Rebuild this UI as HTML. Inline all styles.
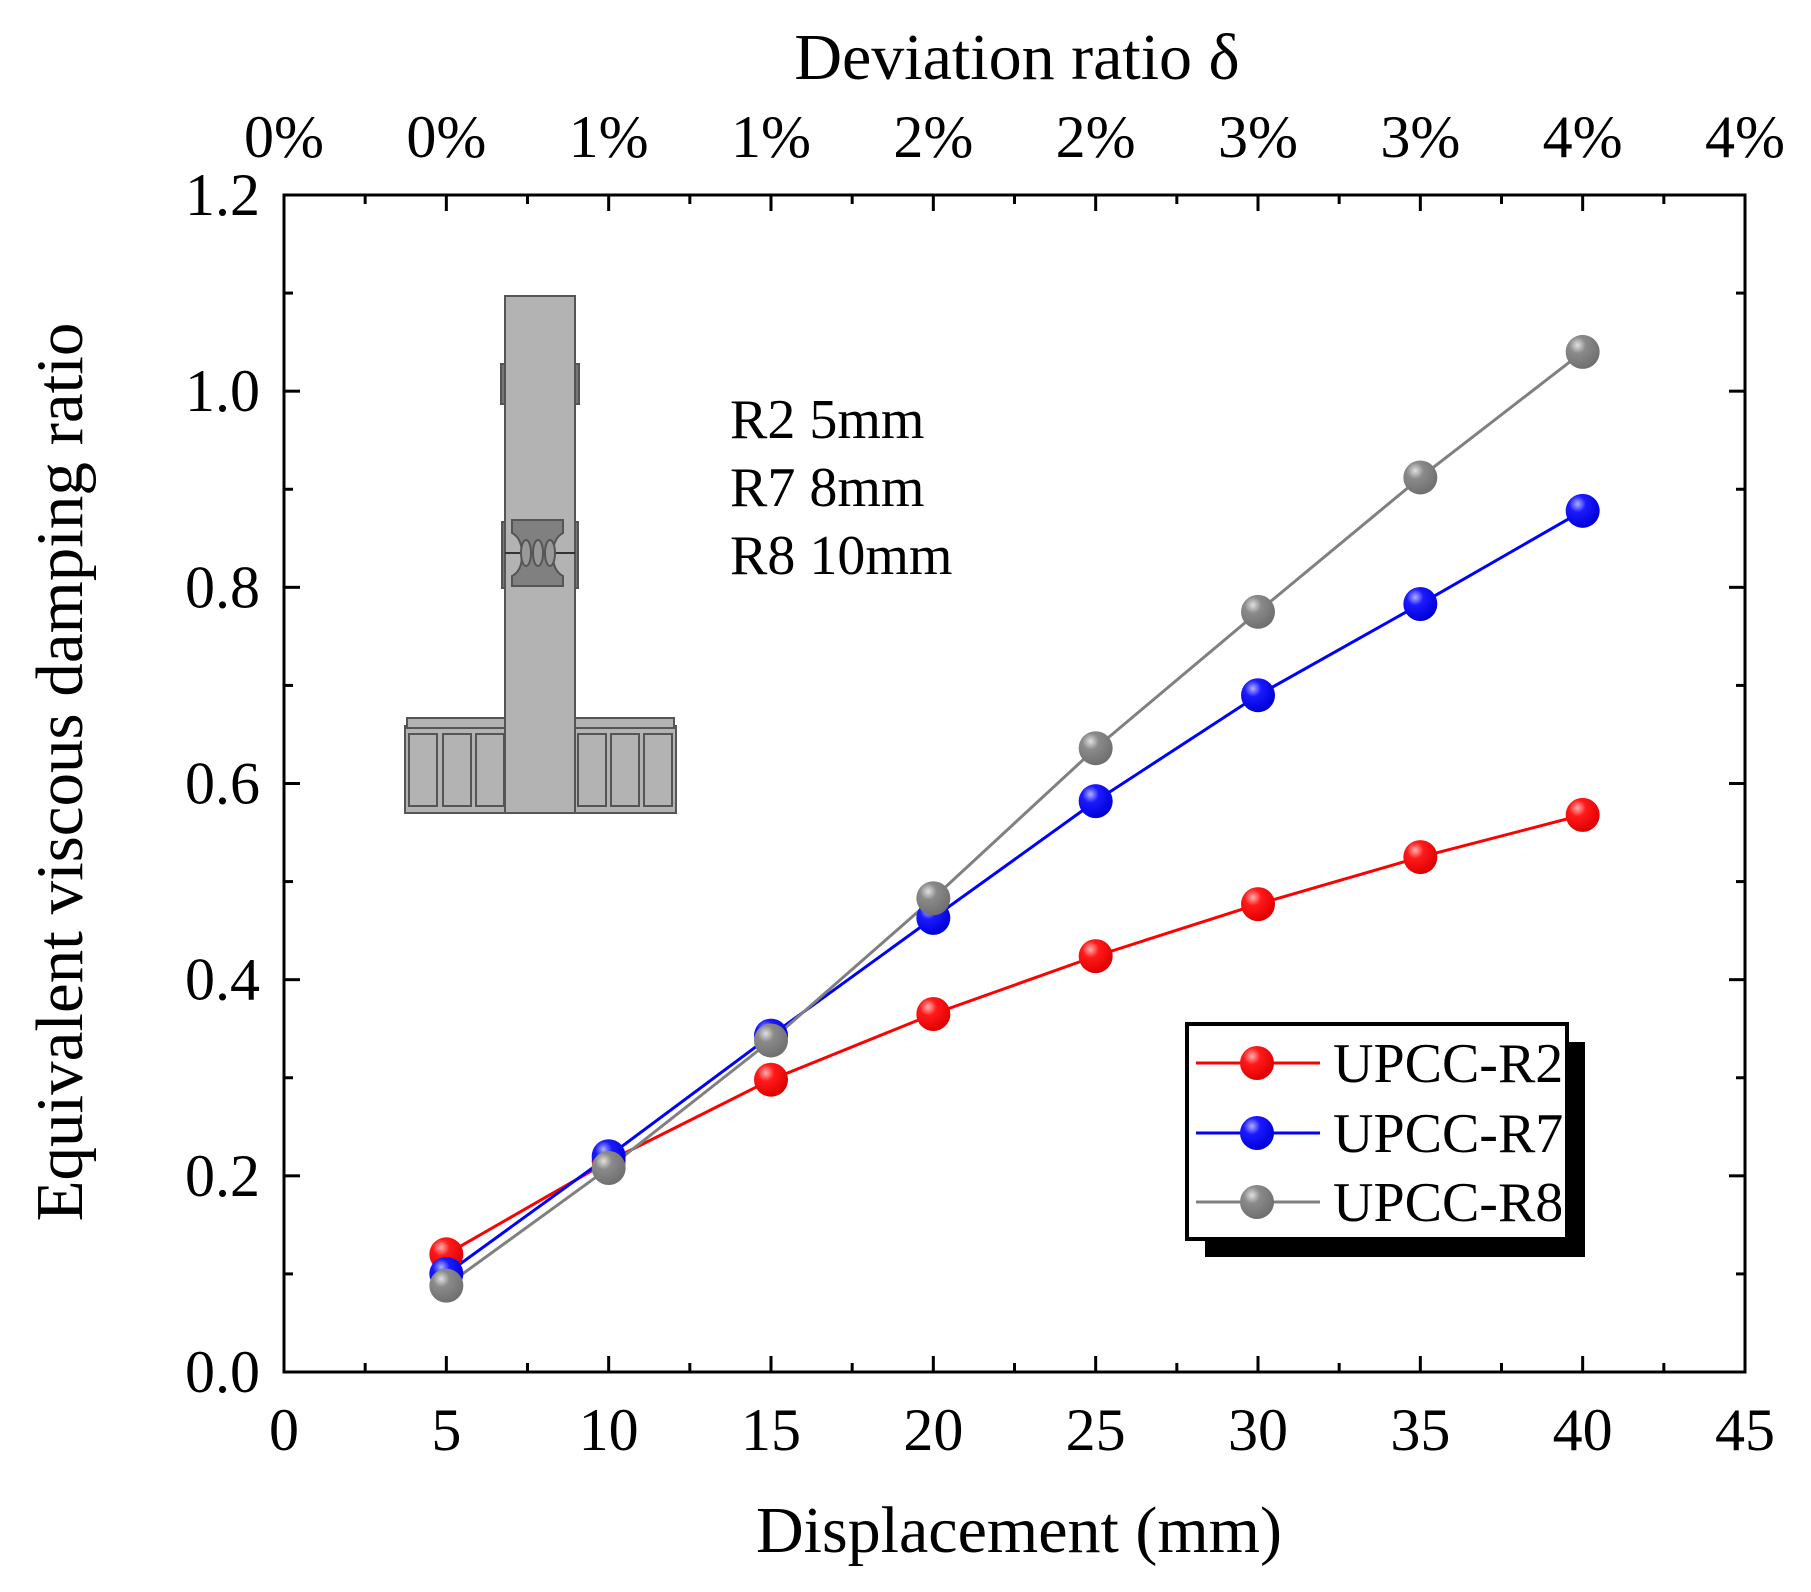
<!DOCTYPE html>
<html><head><meta charset="utf-8"><style>
html,body{margin:0;padding:0;background:#fff;}
svg{display:block;font-family:"Liberation Serif",serif;}
</style></head><body>
<svg id="chart" width="1811" height="1592" viewBox="0 0 1811 1592">
<defs>
<radialGradient id="gR" cx="0.35" cy="0.3" r="0.7"><stop offset="0" stop-color="#ffb0b0"/><stop offset="0.35" stop-color="#ff1a1a"/><stop offset="1" stop-color="#e00000"/></radialGradient>
<radialGradient id="gB" cx="0.35" cy="0.3" r="0.7"><stop offset="0" stop-color="#b0b0ff"/><stop offset="0.35" stop-color="#1a1aff"/><stop offset="1" stop-color="#0000d8"/></radialGradient>
<radialGradient id="gG" cx="0.35" cy="0.3" r="0.7"><stop offset="0" stop-color="#e0e0e0"/><stop offset="0.35" stop-color="#8a8a8a"/><stop offset="1" stop-color="#707070"/></radialGradient>
</defs>
<g id="structure" fill="#b3b3b3" stroke="#555" stroke-width="2">
<rect x="405" y="726" width="271" height="87"/>
<rect x="407" y="718" width="267" height="10"/>
<rect x="409" y="734" width="28" height="72"/><rect x="443" y="734" width="28" height="72"/><rect x="476" y="734" width="28" height="72"/>
<rect x="578" y="734" width="28" height="72"/><rect x="611" y="734" width="28" height="72"/><rect x="644" y="734" width="28" height="72"/>
<rect x="505" y="296" width="70" height="517"/>
<rect x="501" y="364" width="4" height="40" fill="#777"/><rect x="575" y="364" width="4" height="40" fill="#777"/>
<rect x="502" y="522" width="3" height="66" fill="#777"/><rect x="575" y="522" width="3" height="66" fill="#777"/>
<path d="M512 520 H563 V533 Q553 538 553 555 Q553 571 563 576 V586 H512 V576 Q522 571 522 555 Q522 538 512 533 Z" fill="#808080"/>
<line x1="505" y1="553" x2="575" y2="553" stroke="#333"/>
<ellipse cx="526" cy="553" rx="5" ry="13" fill="#999"/><ellipse cx="538" cy="553" rx="5" ry="13" fill="#999"/><ellipse cx="550" cy="553" rx="5" ry="13" fill="#999"/>
</g>
<g id="annot" font-size="56" fill="#000">
<text x="730" y="438">R2 5mm</text>
<text x="730" y="506">R7 8mm</text>
<text x="730" y="574">R8 10mm</text>
</g>
<g id="axes"></g>
<g id="series"></g>
<g id="legend">
<rect x="1205" y="1042" width="380" height="215" fill="#000"/>
<rect x="1187" y="1024" width="380" height="215" fill="#fff" stroke="#000" stroke-width="4"/>
</g>
<text x="1017" y="79" font-size="66" text-anchor="middle">Deviation ratio δ</text>
<text x="1019" y="1552" font-size="66" text-anchor="middle">Displacement (mm)</text>
<text transform="translate(82,772) rotate(-90)" font-size="67" text-anchor="middle">Equivalent viscous damping ratio</text>
</svg>
<script>
const xCategories = [5, 10, 15, 20, 25, 30, 35, 40];
const seriesNames = ["UPCC-R2", "UPCC-R7", "UPCC-R8"];
const valuesR2 = [0.12, 0.215, 0.298, 0.365, 0.424, 0.477, 0.525, 0.568];
const valuesR7 = [0.10, 0.22, 0.343, 0.463, 0.582, 0.69, 0.783, 0.878];
const valuesR8 = [0.088, 0.208, 0.338, 0.483, 0.636, 0.775, 0.912, 1.04];
const xTickLabels = ["0","5","10","15","20","25","30","35","40","45"];
const yTickLabels = ["0.0","0.2","0.4","0.6","0.8","1.0","1.2"];
const topTickLabels = ["0%","0%","1%","1%","2%","2%","3%","3%","4%","4%"];

const NS = "http://www.w3.org/2000/svg";
const L = 284, R = 1745, T = 195, B = 1372;
const xMax = 45, yMax = 1.2;
function xs(v){ return L + (R - L) * v / xMax; }
function ys(v){ return B - (B - T) * v / yMax; }
function mk(tag, attrs, parent){ const e = document.createElementNS(NS, tag); for (const k in attrs) e.setAttribute(k, attrs[k]); parent.appendChild(e); return e; }

const axes = document.getElementById("axes");
const frame = mk("rect", {x:L, y:T, width:R-L, height:B-T, fill:"none", stroke:"#000", "stroke-width":3}, axes);


for (let v = 0; v <= xMax + 0.01; v += 2.5) {
  const major = Math.abs(v % 5) < 0.01; const len = major ? 16 : 9; const x = xs(v);
  mk("line", {x1:x, y1:B, x2:x, y2:B-len, stroke:"#000", "stroke-width":3}, axes);
  mk("line", {x1:x, y1:T, x2:x, y2:T+len, stroke:"#000", "stroke-width":3}, axes);
}
for (let i = 0; i <= 12; i++) {
  const v = i * 0.1; const major = i % 2 === 0; const len = major ? 16 : 9; const y = ys(v);
  mk("line", {x1:L, y1:y, x2:L+len, y2:y, stroke:"#000", "stroke-width":3}, axes);
  mk("line", {x1:R, y1:y, x2:R-len, y2:y, stroke:"#000", "stroke-width":3}, axes);
}
xTickLabels.forEach((t, i) => {
  const e = mk("text", {x:xs(i*5), y:1450, "font-size":60, "text-anchor":"middle"}, axes); e.textContent = t;
  
  
});
topTickLabels.forEach((t, i) => {
  const e = mk("text", {x:xs(i*5), y:157, "font-size":60, "text-anchor":"middle"}, axes); e.textContent = t;
  
  
});
yTickLabels.forEach((t, i) => {
  const e = mk("text", {x:260, y:ys(i*0.2)+20, "font-size":60, "text-anchor":"end"}, axes); e.textContent = t;
  
  
});

const sg = document.getElementById("series");
const defs = [[valuesR2, "#ff0000", "url(#gR)"], [valuesR7, "#0000ff", "url(#gB)"], [valuesR8, "#808080", "url(#gG)"]];
defs.forEach(([vals, col, grad], si) => {
  const pts = vals.map((v, i) => xs(xCategories[i]) + "," + ys(v)).join(" ");
  const pl = mk("polyline", {points:pts, fill:"none", stroke:col, "stroke-width":3}, sg);
  
  
});
defs.forEach(([vals, col, grad], si) => {
  vals.forEach((v, i) => {
    const c = mk("circle", {cx:xs(xCategories[i]), cy:ys(v), r:17, fill:grad}, sg);
    
    
  });
});

const lg = document.getElementById("legend");
const ly = [1063, 1133, 1202];
defs.forEach(([vals, col, grad], si) => {
  const g = mk("g", {}, lg);
  
  
  mk("line", {x1:1196, y1:ly[si], x2:1320, y2:ly[si], stroke:col, "stroke-width":3}, g);
  mk("circle", {cx:1257, cy:ly[si], r:17, fill:grad}, g);
  const t = mk("text", {x:1333, y:ly[si]+19, "font-size":56}, g); t.textContent = seriesNames[si];
});
</script>
</body></html>
